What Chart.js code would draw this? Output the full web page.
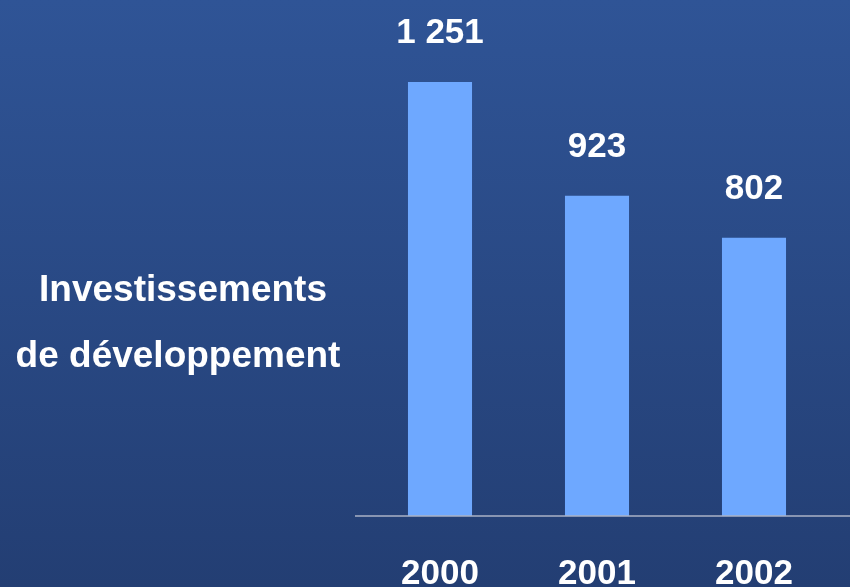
<!DOCTYPE html>
<html>
<head>
<meta charset="utf-8">
<script src="https://cdn.jsdelivr.net/npm/chart.js@4/dist/chart.umd.min.js"></script>
<style>
  html, body { margin: 0; padding: 0; background: #2a4a86; }
  #wrap { width: 850px; height: 587px; position: relative; }
</style>
</head>
<body>
<div id="wrap"><canvas id="ChartOne"></canvas></div>
<script>
const years = ['2000', '2001', '2002'];
const investments = [1251, 923, 802];
const titleLines = ['Investissements', 'de développement'];

const fontFamily = '"Liberation Sans", Arial, Helvetica, sans-serif';

// 1251 -> "1 251"
const fmt = (v) => String(v).replace(/\B(?=(\d{3})+(?!\d))/g, ' ');

const background = {
  id: 'background',
  beforeDraw: (chart) => {
    let ctx = chart.ctx;
    let g = ctx.createLinearGradient(0, 0, 0, chart.height);
    g.addColorStop(0, '#2f5496');
    g.addColorStop(1, '#233e73');
    ctx.save();
    ctx.fillStyle = g;
    ctx.fillRect(0, 0, chart.width, chart.height);
    ctx.restore();
  }
};

const extras = {
  id: 'extras',
  afterDatasetsDraw: (chart) => {
    let ctx = chart.ctx;
    let y0 = chart.scales.y.getPixelForValue(0);
    ctx.save();

    // baseline
    ctx.strokeStyle = '#aab2c6';
    ctx.lineWidth = 1.5;
    ctx.beginPath();
    ctx.moveTo(355, y0);
    ctx.lineTo(chart.width, y0);
    ctx.stroke();

    ctx.fillStyle = '#ffffff';
    ctx.font = 'bold 35px ' + fontFamily;
    ctx.textAlign = 'center';
    ctx.textBaseline = 'alphabetic';

    // value labels above bars
    chart.getDatasetMeta(0).data.forEach((bar, i) => {
      ctx.fillText(fmt(investments[i]), bar.x, bar.y - 39);
    });

    // left side caption
    ctx.font = 'bold 37px ' + fontFamily;
    ctx.fillText(titleLines[0], 183, 301);
    ctx.fillText(titleLines[1], 178, 367);
    ctx.restore();
  }
};

let ctx = document.getElementById('ChartOne').getContext('2d');

let myChart = new Chart(ctx, {
  type: 'bar',
  data: {
    labels: years,
    datasets: [{
      data: investments,
      backgroundColor: '#6ea8ff',
      borderWidth: 0,
      categoryPercentage: 1,
      barPercentage: 0.408
    }]
  },
  options: {
    responsive: true,
    maintainAspectRatio: false,
    animation: false,
    layout: {
      padding: { left: 361.5, right: 17.5, top: 0, bottom: 0 }
    },
    plugins: {
      legend: { display: false },
      tooltip: { enabled: false }
    },
    scales: {
      x: {
        grid: { display: false, drawTicks: false },
        border: { display: false },
        ticks: {
          color: '#ffffff',
          padding: 37,
          font: { family: fontFamily, size: 35, weight: 'bold' }
        },
        afterFit: (scale) => { scale.height = 71; }
      },
      y: {
        display: false,
        min: 0,
        max: 1487
      }
    }
  },
  plugins: [background, extras]
});
</script>
</body>
</html>
